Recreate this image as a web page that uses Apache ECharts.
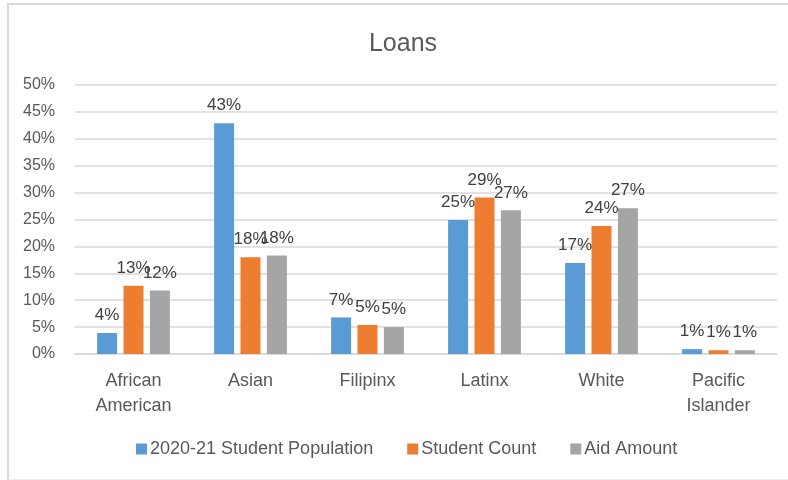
<!DOCTYPE html>
<html>
<head>
<meta charset="utf-8">
<script src="https://cdn.jsdelivr.net/npm/echarts@6/dist/echarts.min.js"></script>
<style>
  body { margin: 0; background: #fff; }
  #frame {
    position: absolute; left: 7px; top: 3px; width: 800px; height: 474px;
    border-left: 2px solid #d9d9d9; border-top: 2px solid #d9d9d9;
    border-bottom: 1px solid #eeeeee;
  }
  #chart { position: absolute; left: 0; top: 0; width: 788px; height: 480px; }
</style>
</head>
<body>
<div id="frame"></div>
<div id="chart"></div>
<script>
// values in percent
const categories = ['African\nAmerican', 'Asian', 'Filipinx', 'Latinx', 'White', 'Pacific\nIslander'];
const studentPopulation = [3.9, 42.9, 6.8, 24.9, 16.9, 0.9];
const studentCount = [12.7, 18.0, 5.4, 29.1, 23.8, 0.7];
const aidAmount = [11.8, 18.3, 5.0, 26.7, 27.1, 0.7];
const seriesNames = ['2020-21 Student Population', 'Student Count', 'Aid Amount'];
const colors = ['#5b9bd5', '#ed7d31', '#a5a5a5'];

const font = 'Liberation Sans, Arial, sans-serif';
const chart = echarts.init(document.getElementById('chart'));

function barSeries(name, data, color) {
  return {
    name: name,
    type: 'bar',
    data: data,
    barWidth: 20,
    barGap: '32%',
    itemStyle: { color: color },
    label: {
      show: true,
      position: 'top',
      distance: 9,
      color: '#404040',
      fontFamily: font,
      fontSize: 17,
      formatter: p => Math.round(p.value) + '%'
    }
  };
}

chart.setOption({
  animation: false,
  title: {
    text: 'Loans',
    left: 398,
    top: 27,
    textAlign: 'center',
    textStyle: { fontFamily: font, fontSize: 25, fontWeight: 'normal', color: '#595959' }
  },
  color: colors,
  legend: {
    data: seriesNames,
    left: 131,
    top: 435,
    itemWidth: 11,
    itemHeight: 11,
    itemGap: 34,
    icon: 'rect',
    textStyle: { fontFamily: font, fontSize: 18, color: '#595959', padding: [0, 0, 0, -2] }
  },
  grid: { left: 75, right: 11, top: 85, bottom: 126 },
  xAxis: {
    type: 'category',
    data: categories,
    axisTick: { show: false },
    axisLine: { lineStyle: { color: '#d9d9d9', width: 1.5 } },
    axisLabel: {
      interval: 0,
      margin: 15,
      color: '#595959',
      fontFamily: font,
      fontSize: 18,
      lineHeight: 25
    }
  },
  yAxis: {
    type: 'value',
    min: 0,
    max: 50,
    interval: 5,
    axisLine: { show: false },
    axisTick: { show: false },
    splitLine: { lineStyle: { color: '#d9d9d9', width: 1.5 } },
    axisLabel: {
      margin: 20,
      color: '#595959',
      fontFamily: font,
      fontSize: 16,
      formatter: '{value}%'
    }
  },
  series: [
    barSeries(seriesNames[0], studentPopulation, colors[0]),
    barSeries(seriesNames[1], studentCount, colors[1]),
    barSeries(seriesNames[2], aidAmount, colors[2])
  ]
});
</script>
</body>
</html>
